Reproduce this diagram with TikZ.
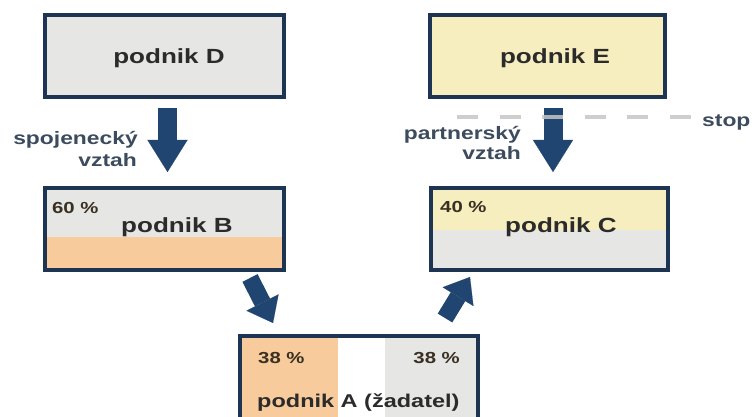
\documentclass[tikz,border=0pt]{standalone}
\usepackage{fontspec}
\setmainfont{Liberation Sans}[FakeStretch=1.27]
\usetikzlibrary{arrows.meta,calc}
\definecolor{navy}{HTML}{1D3552}
\definecolor{arrowblue}{HTML}{1F4570}
\definecolor{boxgray}{HTML}{E6E6E5}
\definecolor{boxyellow}{HTML}{F6EEBF}
\definecolor{boxorange}{HTML}{F8CB9C}
\definecolor{txt}{HTML}{2B2B2B}
\definecolor{labtxt}{HTML}{3C4B5E}
\definecolor{pcttxt}{HTML}{3A3022}
\definecolor{dashgray}{HTML}{C6C6C6}
\begin{document}
\begin{tikzpicture}[x=1pt,y=-1pt,
  box/.style={draw=navy,line width=3.5pt,inner sep=0pt,outer sep=0pt,minimum height=82pt},
  big/.style={font=\fontsize{20.5}{24}\selectfont\bfseries,text=txt,inner sep=0pt},
  lab/.style={font=\fontsize{18}{21}\selectfont\bfseries,text=labtxt,inner sep=0pt},
  pct/.style={font=\fontsize{16}{19}\selectfont\bfseries,text=pcttxt,inner sep=0pt},
  blockarrow/.style={color=arrowblue,line width=19pt,-{Triangle[width=40pt,length=32pt,line width=0.1pt]}},
  diagarrow/.style={color=arrowblue,line width=17pt,-{Triangle[width=36pt,length=23pt,line width=0.1pt]}},
  stopline/.style={dashgray,line width=4pt,dash pattern=on 21pt off 21.5pt,opacity=0.85}]
\useasboundingbox[fill=white] (0,0) rectangle (755,417);
% boxes
\node[box,fill=boxgray,minimum width=239pt] (D) at (164.5,56) {};
\node[box,fill=boxyellow,minimum width=235pt] (E) at (547.5,56) {};
\node[box,fill=boxgray,minimum width=239pt] (B) at (164.5,229) {};
\fill[boxorange] ($(B.south west)+(1.75,-1.75)$) rectangle ($(B.north east)+(-1.75,49)$);
\node[box,fill=boxgray,minimum width=237pt] (C) at (549.5,229) {};
\fill[boxyellow] ($(C.north west)+(1.75,1.75)$) rectangle ($(C.north east)+(-1.75,42)$);
\node[box,fill=boxgray,minimum width=238pt,minimum height=92pt] (A) at (359,382) {};
\fill[boxorange] ($(A.north west)+(1.75,1.75)$) rectangle ($(A.south west)+(98,-1.75)$);
\fill[white] ($(A.north west)+(98,1.75)$) rectangle ($(A.south west)+(145,-1.75)$);
% texts
\node[big,anchor=base] (tD) at (169,64) {podnik D};
\node[big,anchor=base] (tE) at (555,64) {podnik E};
\node[big,anchor=base west] (tB) at (121,232) {podnik B};
\node[big,anchor=base west] (tC) at (505,232) {podnik C};
\node[pct,anchor=base west] (pB) at (52,213) {60 \%};
\node[pct,anchor=base west] (pC) at (440,212) {40 \%};
\node[pct,anchor=base west] (pA1) at (258,363) {38 \%};
\node[pct,anchor=base east] (pA2) at (460,363) {38 \%};
\node[big,font=\fontsize{18.5}{22}\selectfont\bfseries,anchor=base west] (tA) at (257,407) {podnik A (žadatel)};
\node[lab,anchor=base east] (l1a) at (138,145) {spojenecký};
\node[lab,anchor=base east] (l1b) at (137,166) {vztah};
\node[lab,anchor=base east] (l2a) at (521,140) {partnerský};
\node[lab,anchor=base east] (l2b) at (521,160) {vztah};
\node[lab,anchor=base west] (stop) at (702,127) {stop};
% arrows
\draw[blockarrow] ($(D.south)+(3,11)$) -- ($(B.north)+(3,-16)$);
\draw[blockarrow] ($(E.south)+(5.5,11)$) -- ($(C.north)+(3.5,-16)$);
\draw[diagarrow] ($(B.south east)+(-34,8)$) -- ($(A.north west)+(33,-13)$);
\draw[diagarrow] ($(A.north east)+(-33,-18)$) -- ($(C.south west)+(39,7)$);
% stop line
\coordinate (s0) at (457,117);
\draw[stopline] (s0) -- ($(stop.west |- s0)+(-11,0)$);
\end{tikzpicture}
\end{document}
